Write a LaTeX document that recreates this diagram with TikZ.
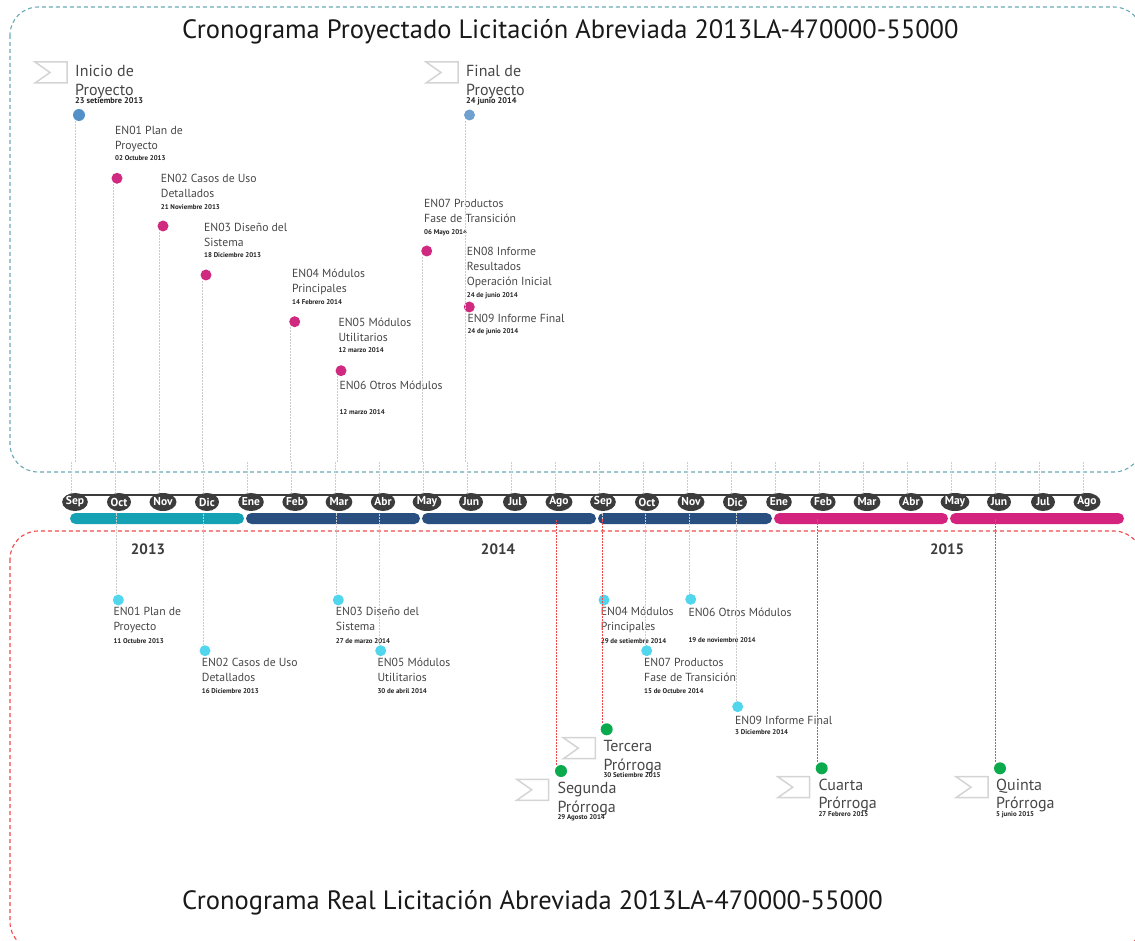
\documentclass[tikz,border=0pt]{standalone}
\usepackage{fontspec}
\setmainfont{PT Sans}
\usetikzlibrary{positioning, shapes.geometric}

\definecolor{tealcaja}{HTML}{6AAAB4}
\definecolor{rojocaja}{HTML}{F04848}
\definecolor{barraverde}{HTML}{13A1B3}
\definecolor{barraazul}{HTML}{294E80}
\definecolor{barrarosa}{HTML}{D3237E}
\definecolor{mesgris}{HTML}{3C3C3C}
\definecolor{textogris}{HTML}{474747}
\definecolor{fechagris}{HTML}{222222}
\definecolor{rosa}{HTML}{D02A80}
\definecolor{celeste}{HTML}{52D6EE}
\definecolor{verde}{HTML}{0BAA4D}
\definecolor{azulhito}{HTML}{5490C8}
\definecolor{guiagris}{HTML}{CCCCCC}
\definecolor{banderagris}{HTML}{D4D4D4}

\tikzset{
  bandera/.pic={\draw[line width=1.5pt, draw=banderagris, fill=white] (0,0) -- (32,0) -- (32,21) -- (0,21) -- (15,10.5) -- cycle;}
}

\begin{document}
\begin{tikzpicture}[x=1pt, y=-1pt,
    caja/.style={dashed, dash pattern=on 4pt off 3pt, line width=1.1pt, rounded corners=28pt},
    titulo/.style={anchor=base west, inner sep=0pt, font=\fontsize{26.5}{30}\selectfont, text=black!90},
    etiqueta/.style={anchor=north west, align=left, inner sep=0pt, font=\fontsize{11.7}{14.8}\selectfont, text=textogris, execute at begin node={\rule{0pt}{10pt}}},
    hitotxt/.style={anchor=north west, align=left, inner sep=0pt, font=\fontsize{16}{18.5}\selectfont, text=textogris, execute at begin node={\rule{0pt}{12pt}}},
    fecha/.style={anchor=base west, inner sep=0pt, font=\fontsize{6.9}{7}\selectfont\bfseries, text=fechagris},
    fechagrande/.style={fecha, font=\fontsize{8.3}{9}\selectfont\bfseries},
    mes/.style={ellipse, fill=mesgris, minimum width=24pt, minimum height=18pt, inner sep=0pt, text=white, font=\fontsize{11.5}{12}\selectfont\bfseries},
    anio/.style={anchor=base, inner sep=0pt, font=\fontsize{15}{16}\selectfont\bfseries, text=mesgris},
    pto/.style={circle, minimum size=11pt, inner sep=0pt},
    guia/.style={draw=guiagris, line width=0.8pt, dash pattern=on 2pt off 1pt},
    guiaroja/.style={draw=rojocaja, line width=0.9pt, dash pattern=on 2pt off 1pt}
  ]
  \useasboundingbox (0,0) rectangle (1135,941);

  % Cajas
  \draw[caja, draw=tealcaja] (10,7) rectangle (1142,472);
  \draw[caja, draw=rojocaja] (10,531) rectangle (1142,950);

  % Titulos
  \node[titulo] (tit1) at (182,39) {Cronograma Proyectado Licitación Abreviada 2013LA-470000-55000};
  \node[titulo] (tit2) at (182,909) {Cronograma Real Licitación Abreviada 2013LA-470000-55000};

  % Eje de meses
  \coordinate (tope) at (0,462);
  \coordinate (barra) at (0,513);
  \coordinate (rojo) at (0,519);
  \coordinate (ejeA) at (75,495);
  \coordinate (ejeB) at (1087,495);
  \draw[line width=2pt, draw=mesgris] (ejeA) -- (ejeB);
  \foreach \m [count=\i from 0] in {Sep,Oct,Nov,Dic,Ene,Feb,Mar,Abr,May,Jun,Jul,Ago,Sep,Oct,Nov,Dic,Ene,Feb,Mar,Abr,May,Jun,Jul,Ago} {
    \draw[guia] (71+44*\i,462) -- (71+44*\i,493);
    \node[mes] (m\i) at (75+44*\i,502) {\m};
  }
  \foreach \k/\c in {0/barraverde,1/barraazul,2/barraazul,3/barraazul,4/barrarosa,5/barrarosa}
    \fill[\c, rounded corners=5.5pt] (70+176*\k,513) rectangle (244+176*\k,524);

  \node[anio] (a13) at (148,554) {2013};
  \node[anio] (a14) at (498,554) {2014};
  \node[anio] (a15) at (947,554) {2015};

  % Cronograma proyectado
  \pic at (35,62) {bandera};
  \node[hitotxt] (t_ini) at (75,65) {Inicio de\\Proyecto};
  \node[fechagrande] (f_ini) at (75,104) {23 setiembre 2013};
  \node[pto, fill=azulhito, minimum size=12pt] (p_ini) at (79,115) {};

  \pic at (426,62) {bandera};
  \node[hitotxt] (t_fin) at (466,65) {Final de\\Proyecto};
  \node[fechagrande] (f_fin) at (466,103.5) {24 junio 2014};
  \node[pto, fill=azulhito!85!white] (p_fin) at (469.5,115) {};

  \node[etiqueta] (t_p01) at (115,126) {EN01 Plan de\\Proyecto};
  \node[fecha] (f_p01) at (115,160.7) {02 Octubre 2013};
  \node[pto, fill=rosa] (p01) at (117,178.3) {};

  \node[etiqueta] (t_p02) at (160.7,174.3) {EN02 Casos de Uso\\Detallados};
  \node[fecha] (f_p02) at (160.7,209.3) {21 Noviembre 2013};
  \node[pto, fill=rosa] (p02) at (163,226) {};

  \node[etiqueta] (t_p03) at (204,223.3) {EN03 Diseño del\\Sistema};
  \node[fecha] (f_p03) at (204,257.3) {18 Diciembre 2013};
  \node[pto, fill=rosa] (p03) at (206,275) {};

  \node[etiqueta] (t_p04) at (292,269.3) {EN04 Módulos\\Principales};
  \node[fecha] (f_p04) at (292,305) {14 Febrero 2014};
  \node[pto, fill=rosa] (p04) at (294.7,321.7) {};

  \node[etiqueta] (t_p05) at (338.3,317.7) {EN05 Módulos\\Utilitarios};
  \node[fecha] (f_p05) at (338.3,352.7) {12 marzo 2014};
  \node[pto, fill=rosa] (p05) at (341,370.7) {};

  \node[etiqueta] (t_p06) at (339.3,379.3) {EN06 Otros Módulos};
  \node[fecha] (f_p06) at (339.3,414.3) {12 marzo 2014};

  \node[etiqueta] (t_p07) at (424,199) {EN07 Productos\\Fase de Transición};
  \node[fecha] (f_p07) at (424,234.3) {06 Mayo 2014};
  \node[pto, fill=rosa] (p07) at (426.7,251) {};

  \node[etiqueta] (t_p08) at (466.7,247.3) {EN08 Informe\\Resultados\\Operación Inicial};
  \node[fecha] (f_p08) at (466.7,297.7) {24 de junio 2014};
  \node[pto, fill=rosa] (p08) at (469.3,307) {};

  \node[etiqueta] (t_p09) at (467.3,312) {EN09 Informe Final};
  \node[fecha] (f_p09) at (467.3,334) {24 de junio 2014};

  % Guias proyectado
  \foreach \p in {p_ini,p01,p02,p03,p04,p05,p07,p_fin}
    \draw[guia] ([xshift=-4pt]\p.south) -- ([xshift=-4pt]\p.south |- tope);

  % Cronograma real
  \node[pto, fill=celeste] (r01) at (118.3,600) {};
  \node[etiqueta] (t_r01) at (113.3,607.3) {EN01 Plan de\\Proyecto};
  \node[fecha] (f_r01) at (113.3,643.3) {11 Octubre 2013};

  \node[pto, fill=celeste] (r02) at (205,650.7) {};
  \node[etiqueta] (t_r02) at (201.7,657.7) {EN02 Casos de Uso\\Detallados};
  \node[fecha] (f_r02) at (201.7,693.3) {16 Diciembre 2013};

  \node[pto, fill=celeste] (r03) at (338.3,600) {};
  \node[etiqueta] (t_r03) at (335.7,607.3) {EN03 Diseño del\\Sistema};
  \node[fecha] (f_r03) at (335.7,643.3) {27 de marzo 2014};

  \node[pto, fill=celeste] (r05) at (380.7,650.7) {};
  \node[etiqueta] (t_r05) at (377.3,657.7) {EN05 Módulos\\Utilitarios};
  \node[fecha] (f_r05) at (377.3,693.3) {30 de abril 2014};

  \node[pto, fill=celeste] (r04) at (604,600) {};
  \node[etiqueta] (t_r04) at (600.7,607.3) {EN04 Módulos\\Principales};
  \node[fecha] (f_r04) at (600.7,643.3) {29 de setiembre 2014};

  \node[pto, fill=celeste] (r06) at (690.7,599.3) {};
  \node[etiqueta] (t_r06) at (688.3,606.7) {EN06 Otros Módulos};
  \node[fecha] (f_r06) at (688.3,642.7) {19 de noviembre 2014};

  \node[pto, fill=celeste] (r07) at (646.7,650.7) {};
  \node[etiqueta] (t_r07) at (644,658.3) {EN07 Productos\\Fase de Transición};
  \node[fecha] (f_r07) at (644,693.3) {15 de Octubre 2014};

  \node[pto, fill=celeste] (r09) at (737.7,706.7) {};
  \node[etiqueta] (t_r09) at (735,714) {EN09 Informe Final};
  \node[fecha] (f_r09) at (735,734.3) {3 Diciembre 2014};

  % Prorrogas
  \pic at (516.7,779.3) {bandera};
  \node[pto, fill=verde, minimum size=12pt] (v2) at (561,771) {};
  \node[hitotxt] (t_v2) at (557.3,782) {Segunda\\Prórroga};
  \node[fecha] (f_v2) at (557.3,819.3) {29 Agosto 2014};

  \pic at (563.3,737.7) {bandera};
  \node[pto, fill=verde, minimum size=12pt] (v3) at (606.7,729.3) {};
  \node[hitotxt] (t_v3) at (603.3,740.3) {Tercera\\Prórroga};
  \node[fecha] (f_v3) at (603.3,777.7) {30 Setiembre 2015};

  \pic at (777.7,776.7) {bandera};
  \node[pto, fill=verde, minimum size=12pt] (v4) at (821.7,768.3) {};
  \node[hitotxt] (t_v4) at (818.3,778.7) {Cuarta\\Prórroga};
  \node[fecha] (f_v4) at (818.3,816) {27 Febrero 2015};

  \pic at (956,776.7) {bandera};
  \node[pto, fill=verde, minimum size=12pt] (v5) at (1000,768.3) {};
  \node[hitotxt] (t_v5) at (996,778.7) {Quinta\\Prórroga};
  \node[fecha] (f_v5) at (996,816) {5 junio 2015};

  % Guias real
  \foreach \r in {r01,r02,r03,r05,r04,r06,r07,r09}
    \draw[guia] ([xshift=-1.5pt]\r.north) -- ([xshift=-1.5pt]\r.north |- barra);
  \foreach \v in {v2,v3,v4,v5}
    \draw[guiaroja] ([xshift=-4.7pt]\v.north) -- ([xshift=-4.7pt]\v.north |- rojo);
\end{tikzpicture}
\end{document}
